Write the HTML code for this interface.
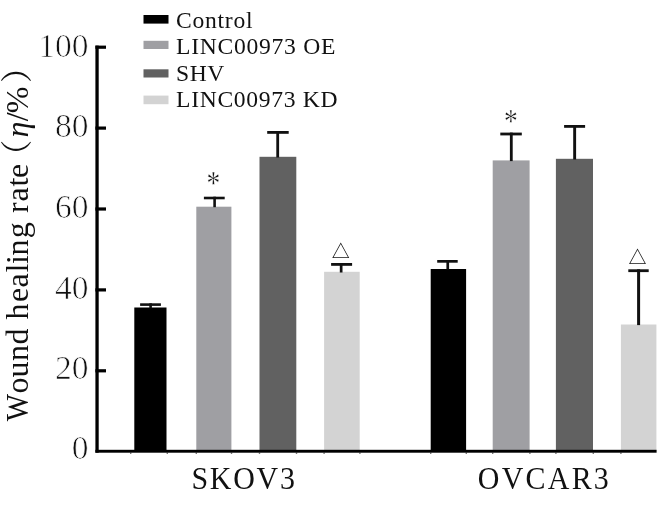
<!DOCTYPE html>
<html><head><meta charset="utf-8"><title>Wound healing rate</title>
<style>
html,body{margin:0;padding:0;background:#fff;}
body{width:670px;height:512px;overflow:hidden;}
svg{display:block;}
text{font-family:"Liberation Serif","Noto Serif CJK SC",serif;fill:#111;}
.tk{font-family:"Noto Serif CJK SC","Liberation Serif",serif;font-weight:200;fill:#222;stroke:#fff;stroke-width:0.75px;}
</style></head><body>
<svg width="670" height="512" viewBox="0 0 670 512">
<rect width="670" height="512" fill="#fff"/>
<!-- bars -->
<g>
<rect x="134.3" y="307.5" width="32.2" height="143" fill="#000"/>
<rect x="196.3" y="206.7" width="35.1" height="244" fill="#9f9fa3"/>
<rect x="259.5" y="156.8" width="36.8" height="294" fill="#616161"/>
<rect x="324.1" y="271.8" width="35.6" height="179" fill="#d3d3d3"/>
<rect x="430.7" y="269" width="35.4" height="182" fill="#000"/>
<rect x="492.7" y="160.4" width="36.9" height="290" fill="#9f9fa3"/>
<rect x="555.9" y="158.8" width="37.1" height="292" fill="#616161"/>
<rect x="620.9" y="324.5" width="35.5" height="126" fill="#d3d3d3"/>
</g>
<!-- error bars -->
<g fill="#111">
<rect x="140.1" y="303.3" width="20.8" height="2.6"/><rect x="149.3" y="303.3" width="2.6" height="5"/>
<rect x="203.9" y="196.7" width="20.8" height="2.6"/><rect x="213.3" y="196.7" width="2.6" height="10.5"/>
<rect x="267.2" y="131" width="21.5" height="2.8"/><rect x="276.3" y="131" width="2.8" height="26.5"/>
<rect x="331.1" y="263" width="21" height="2.8"/><rect x="339.8" y="263" width="2.7" height="9.5"/>
<rect x="437.2" y="260" width="20.5" height="2.7"/><rect x="446.4" y="260" width="2.7" height="9.5"/>
<rect x="500.3" y="132.6" width="21.5" height="2.8"/><rect x="509.9" y="132.6" width="2.8" height="28.5"/>
<rect x="564.1" y="125" width="21" height="2.8"/><rect x="573.2" y="125" width="2.9" height="34.5"/>
<rect x="628.3" y="269.3" width="20.4" height="2.8"/><rect x="637.1" y="269.3" width="3" height="55.8"/>
</g>
<!-- axes -->
<g fill="#000">
<rect x="95.4" y="45.6" width="3.3" height="407.1"/>
<rect x="95.4" y="449.8" width="561.2" height="2.9"/>
<rect x="95.4" y="45.6" width="10.6" height="3.2"/>
<rect x="95.4" y="126.5" width="10.6" height="3.2"/>
<rect x="95.4" y="207.4" width="10.6" height="3.2"/>
<rect x="95.4" y="288.3" width="10.6" height="3.2"/>
<rect x="95.4" y="369.2" width="10.6" height="3.2"/>
</g>
<g fill="#222">
<rect x="130" y="452.6" width="1.4" height="1"/><rect x="166.6" y="452.6" width="1.4" height="1"/>
<rect x="195.6" y="452.6" width="1.4" height="1"/><rect x="230.8" y="452.6" width="1.4" height="1"/>
<rect x="258.8" y="452.6" width="1.4" height="1"/><rect x="295.8" y="452.6" width="1.4" height="1"/>
<rect x="323.4" y="452.6" width="1.4" height="1"/><rect x="359.2" y="452.6" width="1.4" height="1"/>
<rect x="430" y="452.6" width="1.4" height="1"/><rect x="465.6" y="452.6" width="1.4" height="1"/>
<rect x="492" y="452.6" width="1.4" height="1"/><rect x="529.2" y="452.6" width="1.4" height="1"/>
<rect x="555.2" y="452.6" width="1.4" height="1"/><rect x="592.6" y="452.6" width="1.4" height="1"/>
<rect x="620.2" y="452.6" width="1.4" height="1"/>
</g>
<!-- legend -->
<rect x="143.5" y="15" width="25" height="8.6" fill="#000"/>
<rect x="143.5" y="40.8" width="25" height="8.2" fill="#9f9fa3"/>
<rect x="143.5" y="69.3" width="25" height="8.2" fill="#616161"/>
<rect x="143.5" y="95.6" width="25" height="8.6" fill="#d3d3d3"/>
<g font-size="23.6">
<text x="176.1" y="27.5" textLength="76.4" lengthAdjust="spacing">Control</text>
<text x="176.1" y="53.7" textLength="159.2" lengthAdjust="spacing">LINC00973 OE</text>
<text x="176.1" y="80.5" textLength="48.3" lengthAdjust="spacing">SHV</text>
<text x="176.1" y="107" textLength="161.4" lengthAdjust="spacing">LINC00973 KD</text>
</g>
<!-- tick labels -->
<g class="tk" font-size="34.5" text-anchor="end" transform="translate(88.6 0) scale(0.972 1)">
<text x="0" y="56.8">100</text>
<text x="0" y="137.5">80</text>
<text x="0" y="218.1">60</text>
<text x="0" y="298.8">40</text>
<text x="0" y="379.2">20</text>
<text x="0" y="459.4">0</text>
</g>
<!-- x labels -->
<g font-size="32.2">
<text transform="translate(191.4 489.2) scale(0.93 1)" textLength="111.4" lengthAdjust="spacing">SKOV3</text>
<text transform="translate(477.8 489.2) scale(0.93 1)" textLength="140.9" lengthAdjust="spacing">OVCAR3</text>
</g>
<!-- y label -->
<g transform="translate(28.1,421.5) rotate(-90)" font-size="32"><text x="0" y="0" transform="translate(0.3 0) scale(0.9 1)">W</text><text x="28 44 60.5 77 93.5 102.1 119.6 133.9 149.1 157.4 166 183.2 199.5 208.5 220.1 234.9 243.6" y="0">ound healing rate</text><text y="0"><tspan x="249.8">（</tspan><tspan x="284" font-style="italic">η</tspan><tspan x="300.2">/</tspan><tspan x="308.2">%</tspan><tspan x="338.5">）</tspan></text></g>
<!-- markers -->
<g font-size="27.5" text-anchor="middle" stroke="#fff" stroke-width="0.28">
<text transform="translate(213.4 194.2) scale(1 1.25)">*</text>
<text transform="translate(510.8 131.8) scale(1 1.25)">*</text>
</g>
<g font-size="18" text-anchor="middle" style="font-family:'DejaVu Sans','Noto Sans CJK SC',sans-serif;fill:#333">
<text x="340.8" y="257.9">△</text>
<text x="637.6" y="263.9">△</text>
</g>
</svg>
</body></html>
